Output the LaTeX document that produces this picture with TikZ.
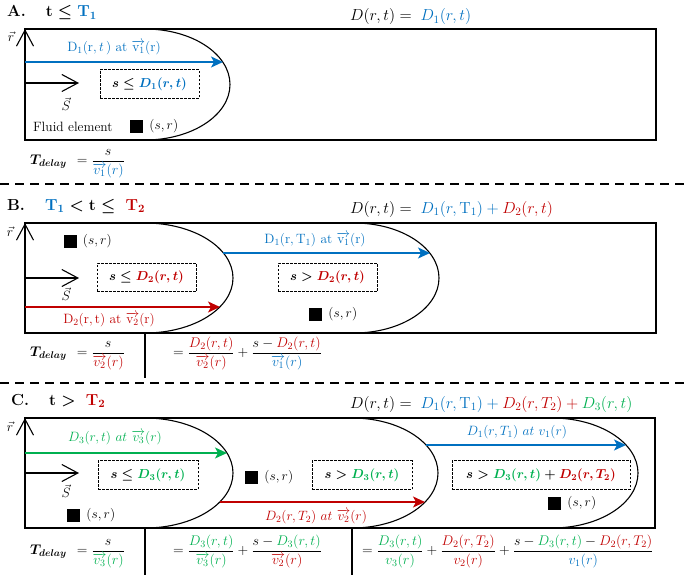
\documentclass[tikz,border=0pt]{standalone}
\usepackage{fix-cm}
\usepackage{amsmath}
\usepackage{bm}
\usepackage{tikz}
\usetikzlibrary{
    positioning,
    arrows.meta
}
\definecolor{cblue}{RGB}{0,112,192}
\definecolor{cred}{RGB}{192,0,0}
\definecolor{cgreen}{RGB}{0,176,80}
\newcommand{\tdelay}{\bm{T_{delay}}\hspace{6pt}=}
\tikzset{
    >=Stealth,
    frame/.style={draw, line width=1.1pt},
    ellip/.style={line width=1.1pt},
    axis/.style={
        line width=1.1pt,
        -{Straight Barb[length=16pt, width=17pt]}
    },
    flow/.style={
        line width=1.3pt,
        -{Stealth[length=12pt, width=11pt, inset=3pt]}
    },
    sep/.style={line width=1.3pt, dash pattern=on 9pt off 6pt},
    split/.style={line width=1.1pt},
    region/.style={
        draw, line width=0.6pt,
        dash pattern=on 2.5pt off 1.5pt,
        minimum height=28.5pt,
        inner sep=0pt,
        font=\fontsize{13}{15}\selectfont\boldmath
    },
    lab/.style={inner sep=0pt, font=\fontsize{13.5}{16}\selectfont},
    elem/.style={fill=black, minimum size=13pt, inner sep=0pt},
    title/.style={anchor=base west, inner sep=0pt,
        font=\fontsize{16}{19}\selectfont\bfseries\boldmath},
    eq/.style={anchor=base west, inner sep=0pt,
        font=\fontsize{16}{19}\selectfont},
    delay/.style={anchor=base west, inner sep=0pt,
        font=\fontsize{14}{17}\selectfont}
}

\begin{document}
\begin{tikzpicture}[x=1pt, y=-1pt]

    \useasboundingbox (0,0) rectangle (685,575);

    % Separadores
    \draw[sep] (0,184) -- (685,184);
    \draw[sep] (0,383) -- (685,383);

    % Panel A
    \node[title] (a-title) at (7,17) {A.\hspace{20pt}$\mathrm{t}\leq{\color{cblue}\mathrm{T_1}}$};
    \node[eq]    (a-eq)    at (350,21) {$D(r,t) =\; {\color{cblue}D_1(r,t)}$};

    \draw[frame] (25,29) rectangle (656,140);
    \draw[ellip] (145,29) arc[start angle=-90, end angle=90, x radius=85, y radius=55.5];

    \coordinate (a-o)  at (25,140);
    \coordinate (a-r)  at (25,29);
    \coordinate (a-s0) at (25,83);
    \coordinate (a-s1) at (79,83);
    \coordinate (a-f0) at (25,62);
    \coordinate (a-f1) at (223,62);

    \draw[axis] (a-o) -- (a-r);
    \draw[axis] (a-s0) -- (a-s1);
    \draw[flow, cblue] (a-f0) -- (a-f1);

    \node[lab] (a-rlab) at (11,37)  {$\vec{r}$};
    \node[lab] (a-slab) at (66,104) {$\vec{S}$};
    \node[lab, text=cblue] (a-flab) at (114,48) {D$_1$(r,\,$t$\,) at $\overrightarrow{\mathrm{v}_1}$(r)};
    \node[region, minimum width=99pt] (a-box) at (149.5,84) {$s\leq{\color{cblue}D_1(r,t)}$};
    \node[elem] (a-elem) at (136.5,126.5) {};
    \node[lab, right=6pt of a-elem] (a-pos)   {$(s,r)$};
    \node[lab, left=17pt of a-elem] (a-fluid) {Fluid element};
    \node[delay] (a-delay) at (30,164.5) {$\tdelay \dfrac{s}{\color{cblue}\overrightarrow{v_1}(r)}$};

    % Panel B
    \node[title] (b-title) at (7,210) {B.\hspace{20pt}${\color{cblue}\mathrm{T_1}}<\mathrm{t}\leq\;{\color{cred}\mathrm{T_2}}$};
    \node[eq]    (b-eq)    at (350,213) {$D(r,t) =\; {\color{cblue}D_1(r,\mathrm{T_1})} \mathbin{\color{cblue}+} {\color{cred}D_2(r,t)}$};

    \draw[frame] (25,223) rectangle (656,333);
    \draw[ellip] (145,223) arc[start angle=-90, end angle=90, x radius=88, y radius=55];
    \draw[ellip] (354,223) arc[start angle=-90, end angle=90, x radius=85, y radius=55];

    \coordinate (b-o)  at (25,333);
    \coordinate (b-r)  at (25,223);
    \coordinate (b-s0) at (25,278);
    \coordinate (b-s1) at (79,278);
    \coordinate (b-f0) at (25,307);
    \coordinate (b-f1) at (220,307);
    \coordinate (b-g0) at (223,253);
    \coordinate (b-g1) at (430,253);

    \draw[axis] (b-o) -- (b-r);
    \draw[axis] (b-s0) -- (b-s1);
    \draw[flow, cred]  (b-f0) -- (b-f1);
    \draw[flow, cblue] (b-g0) -- (b-g1);

    \node[lab] (b-rlab) at (10,232) {$\vec{r}$};
    \node[lab] (b-slab) at (66,294) {$\vec{S}$};
    \node[lab, text=cred]  (b-flab) at (109,320) {D$_2$(r,\,t) at $\overrightarrow{\mathrm{v}_2}$(r)};
    \node[lab, text=cblue] (b-glab) at (315,240) {D$_1$(r,\,T$_1$) at $\overrightarrow{\mathrm{v}_1}$(r)};
    \node[region, minimum width=99pt] (b-box1) at (146.5,277.5) {$s\leq{\color{cred}D_2(r,t)}$};
    \node[region, minimum width=99pt] (b-box2) at (327.5,277.5) {$s>{\color{cred}D_2(r,t)}$};
    \node[elem] (b-elem1) at (70,241.5) {};
    \node[lab, right=6pt of b-elem1] (b-pos1) {$(s,r)$};
    \node[elem] (b-elem2) at (315.5,314.5) {};
    \node[lab, right=6pt of b-elem2] (b-pos2) {$(s,r)$};

    \draw[split] (145,333) -- (145,378);
    \node[delay] (b-delay) at (30,356.5) {$\tdelay \dfrac{s}{\color{cred}\overrightarrow{v_2}(r)}$};
    \node[delay] (b-sum)   at (173,356.5) {$= \dfrac{\color{cred}D_2(r,t)}{\color{cred}\overrightarrow{v_2}(r)} + \dfrac{s-{\color{cred}D_2(r,t)}}{\color{cblue}\overrightarrow{v_1}(r)}$};

    % Panel C
    \node[title] (c-title) at (11,405) {C.\hspace{20pt}$\mathrm{t}>\;{\color{cred}\mathrm{T_2}}$};
    \node[eq]    (c-eq)    at (350,408) {$D(r,t) =\; {\color{cblue}D_1(r,\mathrm{T_1})} \mathbin{\color{cblue}+} {\color{cred}D_2(r,T_2)} \mathbin{\color{cred}+} {\color{cgreen}D_3(r,t)}$};

    \draw[frame] (25,418) rectangle (655,528);
    \draw[ellip] (145,418) arc[start angle=-90, end angle=90, x radius=88, y radius=55];
    \draw[ellip] (352,418) arc[start angle=-90, end angle=90, x radius=86, y radius=55];
    \draw[ellip] (552,418) arc[start angle=-90, end angle=90, x radius=86, y radius=55];

    \coordinate (c-o)  at (25,528);
    \coordinate (c-r)  at (25,418);
    \coordinate (c-s0) at (25,473);
    \coordinate (c-s1) at (79,473);
    \coordinate (c-f0) at (25,453);
    \coordinate (c-f1) at (227,453);
    \coordinate (c-g0) at (220,502);
    \coordinate (c-g1) at (425,502);
    \coordinate (c-h0) at (426,445);
    \coordinate (c-h1) at (626,445);

    \draw[axis] (c-o) -- (c-r);
    \draw[axis] (c-s0) -- (c-s1);
    \draw[flow, cgreen] (c-f0) -- (c-f1);
    \draw[flow, cred]   (c-g0) -- (c-g1);
    \draw[flow, cblue]  (c-h0) -- (c-h1);

    \node[lab] (c-rlab) at (10,427) {$\vec{r}$};
    \node[lab] (c-slab) at (66,491) {$\vec{S}$};
    \node[lab, text=cgreen] (c-flab) at (115,438) {$D_3(r,t)\ at\ \overrightarrow{v_3}(r)$};
    \node[lab, text=cred]   (c-glab) at (316,517) {$D_2(r,T_2)\ at\ \overrightarrow{v_2}(r)$};
    \node[lab, text=cblue]  (c-hlab) at (517,432) {$D_1(r,T_1)\ at\ v_1(r)$};
    \node[region, minimum width=100pt] (c-box1) at (148,475) {$s\leq{\color{cgreen}D_3(r,t)}$};
    \node[region, minimum width=100pt] (c-box2) at (362,475) {$s>{\color{cgreen}D_3(r,t)}$};
    \node[region, minimum width=178pt] (c-box3) at (541,475) {$s>{\color{cgreen}D_3(r,t)}+{\color{cred}D_2(r,T_2)}$};
    \node[elem] (c-elem1) at (73.5,515.5) {};
    \node[lab, right=6pt of c-elem1] (c-pos1) {$(s,r)$};
    \node[elem] (c-elem2) at (251.5,477.5) {};
    \node[lab, right=6pt of c-elem2] (c-pos2) {$(s,r)$};
    \node[elem] (c-elem3) at (554.5,503.5) {};
    \node[lab, right=6pt of c-elem3] (c-pos3) {$(s,r)$};

    \draw[split] (145,528) -- (145,575);
    \draw[split] (352,528) -- (352,575);
    \node[delay] (c-delay) at (30,554.5) {$\tdelay \dfrac{s}{\color{cgreen}\overrightarrow{v_3}(r)}$};
    \node[delay] (c-sum1)  at (173,554.5) {$= \dfrac{\color{cgreen}D_3(r,t)}{\color{cgreen}\overrightarrow{v_3}(r)} + \dfrac{s-{\color{cgreen}D_3(r,t)}}{\color{cred}\overrightarrow{v_2}(r)}$};
    \node[delay] (c-sum2)  at (362,554.5) {$= \dfrac{\color{cgreen}D_3(r,t)}{\color{cgreen}v_3(r)} + \dfrac{\color{cred}D_2(r,T_2)}{\color{cred}v_2(r)} + \dfrac{s-{\color{cgreen}D_3(r,t)}-{\color{cred}D_2(r,T_2)}}{\color{cblue}v_1(r)}$};

\end{tikzpicture}
\end{document}
